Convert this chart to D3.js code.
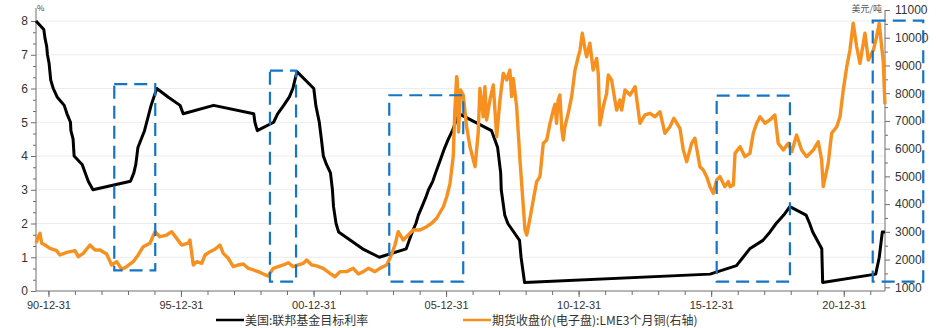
<!DOCTYPE html>
<html><head><meta charset="utf-8">
<script src="https://cdn.jsdelivr.net/npm/d3@7"></script>
<style>
html,body{margin:0;padding:0;background:#fff;}
svg{display:block;font-family:"Noto Sans CJK SC","Noto Sans",sans-serif;}
</style></head><body>
<svg id="chart" width="937" height="328"></svg>
<script>
// ---------- DATA ----------
const fedDates = ["1990-07-13","1990-10-29","1990-11-13","1990-12-07","1990-12-18","1991-01-09","1991-02-01","1991-03-08","1991-04-30","1991-08-06","1991-09-13","1991-10-31","1991-11-06","1991-12-06","1991-12-20","1992-04-09","1992-07-02","1992-09-04","1994-02-04","1994-03-22","1994-04-18","1994-05-17","1994-08-16","1994-11-15","1995-02-01","1995-07-06","1995-12-19","1996-01-31","1997-03-25","1998-09-29","1998-10-15","1998-11-17","1999-06-30","1999-08-24","1999-11-16","2000-02-02","2000-03-21","2000-05-16","2001-01-03","2001-01-31","2001-03-20","2001-04-18","2001-05-15","2001-06-27","2001-08-21","2001-09-17","2001-10-02","2001-11-06","2001-12-11","2002-11-06","2003-06-25","2004-06-30","2004-08-10","2004-09-21","2004-11-10","2004-12-14","2005-02-02","2005-03-22","2005-05-03","2005-06-30","2005-08-09","2005-09-20","2005-11-01","2005-12-13","2006-01-31","2006-03-28","2006-05-10","2006-06-29","2007-09-18","2007-10-31","2007-12-11","2008-01-22","2008-01-30","2008-03-18","2008-04-30","2008-10-08","2008-10-29","2008-12-16","2015-12-16","2016-12-14","2017-03-15","2017-06-14","2017-12-13","2018-03-21","2018-06-13","2018-09-26","2018-12-19","2019-07-31","2019-09-18","2019-10-30","2020-03-03","2020-03-15","2022-03-16","2022-05-04","2022-06-15","2022-07-21"];
const fedRates = [8.00,7.75,7.50,7.25,7.00,6.75,6.25,6.00,5.75,5.50,5.25,5.00,4.75,4.50,4.00,3.75,3.25,3.00,3.25,3.50,3.75,4.25,4.75,5.50,6.00,5.75,5.50,5.25,5.50,5.25,5.00,4.75,5.00,5.25,5.50,5.75,6.00,6.50,6.00,5.50,5.00,4.50,4.00,3.75,3.50,3.00,2.50,2.00,1.75,1.25,1.00,1.25,1.50,1.75,2.00,2.25,2.50,2.75,3.00,3.25,3.50,3.75,4.00,4.25,4.50,4.75,5.00,5.25,4.75,4.50,4.25,3.50,3.00,2.25,2.00,1.50,1.00,0.25,0.50,0.75,1.00,1.25,1.50,1.75,2.00,2.25,2.50,2.25,2.00,1.75,1.25,0.25,0.50,1.00,1.75,1.75];

const cuDates = ["1990-07-13","1990-08-13","1990-09-06","1990-09-29","1990-11-14","1991-01-22","1991-04-23","1991-06-08","1991-09-09","1992-01-01","1992-02-16","1992-04-24","1992-07-25","1992-10-03","1992-12-11","1993-03-12","1993-05-20","1993-07-28","1993-10-06","1993-12-13","1994-03-13","1994-05-21","1994-07-29","1994-10-30","1995-01-08","1995-03-16","1995-06-17","1995-08-25","1995-11-02","1996-01-10","1996-04-10","1996-05-03","1996-06-18","1996-08-04","1996-10-12","1996-11-27","1997-02-04","1997-04-12","1997-06-20","1997-08-05","1997-10-13","1997-12-21","1998-02-28","1998-05-07","1998-07-15","1998-09-23","1998-11-30","1999-02-08","1999-04-16","1999-06-24","1999-09-02","1999-11-10","2000-01-18","2000-03-26","2000-06-03","2000-08-12","2000-09-28","2000-12-06","2001-02-13","2001-05-13","2001-08-14","2001-10-22","2001-12-30","2002-04-01","2002-06-30","2002-09-08","2002-11-16","2003-01-24","2003-04-25","2003-07-03","2003-10-04","2003-11-19","2004-01-27","2004-03-11","2004-05-20","2004-07-28","2004-10-05","2005-01-06","2005-04-07","2005-06-15","2005-08-23","2005-11-23","2006-01-09","2006-02-23","2006-04-08","2006-05-01","2006-05-25","2006-06-02","2006-06-21","2006-07-18","2006-08-24","2006-10-10","2006-11-25","2007-02-03","2007-03-18","2007-04-11","2007-05-26","2007-06-19","2007-07-12","2007-08-27","2007-10-12","2007-11-28","2008-01-12","2008-02-27","2008-04-14","2008-05-28","2008-06-21","2008-07-13","2008-08-29","2008-10-14","2008-11-29","2008-12-22","2009-01-15","2009-03-01","2009-04-15","2009-06-01","2009-07-16","2009-08-31","2009-10-17","2009-12-01","2010-01-16","2010-02-09","2010-03-02","2010-03-24","2010-04-17","2010-05-14","2010-06-02","2010-06-25","2010-08-10","2010-09-26","2010-11-11","2010-12-26","2011-01-19","2011-02-20","2011-03-27","2011-04-20","2011-06-04","2011-07-19","2011-09-05","2011-09-27","2011-10-20","2011-12-05","2012-01-21","2012-02-12","2012-03-29","2012-05-14","2012-06-07","2012-07-22","2012-08-15","2012-09-30","2012-12-08","2013-02-16","2013-04-24","2013-07-02","2013-09-09","2013-11-17","2014-01-25","2014-04-03","2014-06-11","2014-08-05","2014-10-27","2014-12-12","2015-01-28","2015-04-06","2015-05-21","2015-07-29","2015-09-13","2015-10-30","2015-12-15","2016-01-29","2016-03-16","2016-04-30","2016-07-08","2016-08-23","2016-09-16","2016-11-01","2016-11-24","2017-02-01","2017-04-09","2017-06-17","2017-08-02","2017-09-18","2017-11-03","2018-01-11","2018-03-19","2018-05-27","2018-07-12","2018-09-20","2018-11-27","2019-01-14","2019-03-22","2019-05-30","2019-08-07","2019-11-07","2020-01-15","2020-03-01","2020-03-23","2020-05-31","2020-07-17","2020-09-25","2020-11-09","2020-12-24","2021-02-10","2021-03-26","2021-05-10","2021-06-27","2021-08-11","2021-10-19","2021-12-04","2022-02-12","2022-03-28","2022-05-03","2022-06-06","2022-06-27","2022-07-21"];
const cuPrices = [2600,2825,2950,2590,2525,2405,2320,2165,2260,2320,2105,2225,2525,2345,2345,2200,1805,1925,1650,1745,1925,2165,2465,2590,3005,2825,2885,3005,2765,2525,2590,2705,1800,1925,1865,2165,2285,2370,2525,2225,2045,1745,1805,1840,1685,1625,1565,1480,1405,1685,1745,1805,1885,1745,1805,1865,1985,1805,1770,1685,1505,1380,1565,1565,1685,1480,1565,1685,1565,1685,1805,2045,2525,3005,2705,2885,3065,3065,3185,3310,3490,3905,4265,4750,5710,7390,8595,8500,6600,8115,7935,6790,6070,5350,6555,8175,7150,8235,7035,7755,8295,6430,7755,8715,8475,8835,7875,8535,7515,5590,3905,3065,2885,3490,4150,4810,4990,6195,6310,6900,7390,7600,6915,7755,7935,6670,6310,6790,7285,7875,8835,9315,9555,10160,9615,9315,9800,8835,9255,8715,6855,7515,7995,8655,8475,7755,7390,7755,7390,8115,7935,8235,6915,7215,7275,7150,7330,6555,6790,7095,6735,5950,5530,6195,6375,5350,5230,4990,4630,4390,4870,4990,4630,4810,4630,4690,5830,6070,5710,5830,6555,6915,7150,6915,7035,7215,6195,5950,6195,5890,6490,5950,5710,5950,6250,5590,4630,5470,6555,6790,7150,8115,8955,9555,10520,9675,9075,10160,9195,9555,10035,10520,9675,9195,7600];

const xMajorTicks = ["1990-12-31","1995-12-31","2000-12-31","2005-12-31","2010-12-31","2015-12-31","2020-12-31"];
const leftTicks = [0,1,2,3,4,5,6,7,8];
const rightTicks = [1000,2000,3000,4000,5000,6000,7000,8000,9000,10000,11000];
const seriesNames = ["美国:联邦基金目标利率","期货收盘价(电子盘):LME3个月铜(右轴)"];
const unitLeft = "%";
const unitRight = "美元/吨";
// highlighted periods (dashed boxes), heights in left-axis units
const boxStart = ["1993-06-25","1999-05-10","2003-11-09","2016-03-16","2022-02-03"];
const boxEnd   = ["1995-01-11","2000-05-04","2006-08-24","2018-12-20","2023-12-31"];
const boxLow   = [0.61,0.28,0.28,0.28,0.28];
const boxHigh  = [6.13,6.53,5.80,5.79,8.01];

// ---------- CHART ----------
const parse = d3.timeParse("%Y-%m-%d");
const svg = d3.select("#chart");
const L = 36, R = 885, B = 291;
const x = d3.scaleTime().domain([parse("1990-07-13"), parse("2022-07-22")]).range([L, R]);
const yL = d3.scaleLinear().domain([0, 8]).range([B, 21]);
const yR = d3.scaleLinear().domain([1000, 11000]).range([287.3, 10]);

const axisColor = "#6e6e6e", textColor = "#333";

// gridlines
svg.append("g").selectAll("line").data(leftTicks.slice(1)).join("line")
  .attr("x1", L).attr("x2", R).attr("y1", d => yL(d)).attr("y2", d => yL(d))
  .attr("stroke", "#ececec").attr("stroke-width", 1);

function styleAxis(g) {
  g.select(".domain").remove();
  g.selectAll("line").attr("stroke", axisColor);
  g.selectAll("text").attr("fill", textColor);
}

// bottom axis
const yearTicks = d3.range(1990, 2022).map(y => parse(y + "-12-31"));
svg.append("g").attr("transform", `translate(0,${B})`)
  .call(d3.axisBottom(x).tickValues(yearTicks).tickSize(4).tickFormat(""))
  .call(styleAxis);
svg.append("g").attr("transform", `translate(0,${B})`)
  .call(d3.axisBottom(x).tickValues(xMajorTicks.map(parse)).tickSize(6).tickPadding(2)
    .tickFormat(d3.timeFormat("%y-%m-%d")))
  .call(styleAxis)
  .selectAll("text").attr("font-size", 11).attr("dy", "0.9em");

// left axis
const leftMinor = d3.range(0, 24).map(i => i / 3).filter(v => Math.abs(v - Math.round(v)) > 0.01);
svg.append("g").attr("transform", `translate(${L},0)`)
  .call(d3.axisLeft(yL).tickValues(leftMinor).tickSize(3).tickFormat(""))
  .call(styleAxis);
svg.append("g").attr("transform", `translate(${L},0)`)
  .call(d3.axisLeft(yL).tickValues(leftTicks).tickSize(5).tickPadding(3).tickFormat(d3.format("d")))
  .call(styleAxis)
  .selectAll("text").attr("font-size", 12);

// right axis
const rightMinor = d3.range(1500, 11000, 1000);
svg.append("g").attr("transform", `translate(${R},0)`)
  .call(d3.axisRight(yR).tickValues(rightMinor).tickSize(3).tickFormat(""))
  .call(styleAxis);
svg.append("g").attr("transform", `translate(${R},0)`)
  .call(d3.axisRight(yR).tickValues(rightTicks).tickSize(5).tickPadding(5).tickFormat(d3.format("d")))
  .call(styleAxis)
  .selectAll("text").attr("font-size", 12);

// axis lines
svg.append("line").attr("x1", L).attr("x2", L).attr("y1", 8).attr("y2", B).attr("stroke", axisColor);
svg.append("line").attr("x1", R).attr("x2", R).attr("y1", 10).attr("y2", B).attr("stroke", axisColor);
svg.append("line").attr("x1", L).attr("x2", R).attr("y1", B).attr("y2", B).attr("stroke", axisColor);

// unit labels
svg.append("text").attr("x", L + 1).attr("y", 11).attr("font-size", 8).attr("fill", "#444").text(unitLeft);
svg.append("text").attr("x", R - 3).attr("y", 12).attr("text-anchor", "end").attr("font-size", 9).attr("fill", "#555").text(unitRight);

// series
const fed = fedDates.map((d, i) => ({ date: parse(d), v: fedRates[i] }));
const cu = cuDates.map((d, i) => ({ date: parse(d), v: cuPrices[i] }));

svg.append("path").datum(fed)
  .attr("fill", "none").attr("stroke", "#000").attr("stroke-width", 3).attr("stroke-linejoin", "round")
  .attr("d", d3.line().x(d => x(d.date)).y(d => yL(d.v)));

svg.append("path").datum(cu)
  .attr("fill", "none").attr("stroke", "#F7901E").attr("stroke-width", 3.4).attr("stroke-linejoin", "round")
  .attr("d", d3.line().x(d => x(d.date)).y(d => yR(d.v)));

// dashed boxes
svg.append("g").selectAll("rect").data(boxStart).join("rect")
  .attr("x", (d, i) => x(parse(d)))
  .attr("y", (d, i) => yL(boxHigh[i]))
  .attr("width", (d, i) => x(parse(boxEnd[i])) - x(parse(d)))
  .attr("height", (d, i) => yL(boxLow[i]) - yL(boxHigh[i]))
  .attr("fill", "none").attr("stroke", "#1475C6").attr("stroke-width", 2.2)
  .attr("stroke-dasharray", "13,7");

// legend
const legend = svg.append("g");
const legColors = ["#000", "#F7901E"];
const legX = [216, 463];
seriesNames.forEach((name, i) => {
  legend.append("line").attr("x1", legX[i]).attr("x2", legX[i] + 28).attr("y1", 320).attr("y2", 320)
    .attr("stroke", legColors[i]).attr("stroke-width", 2.5);
  legend.append("text").attr("x", legX[i] + 29).attr("y", 324.5).attr("font-size", 12)
    .attr("fill", textColor).text(name);
});
</script>
</body></html>
